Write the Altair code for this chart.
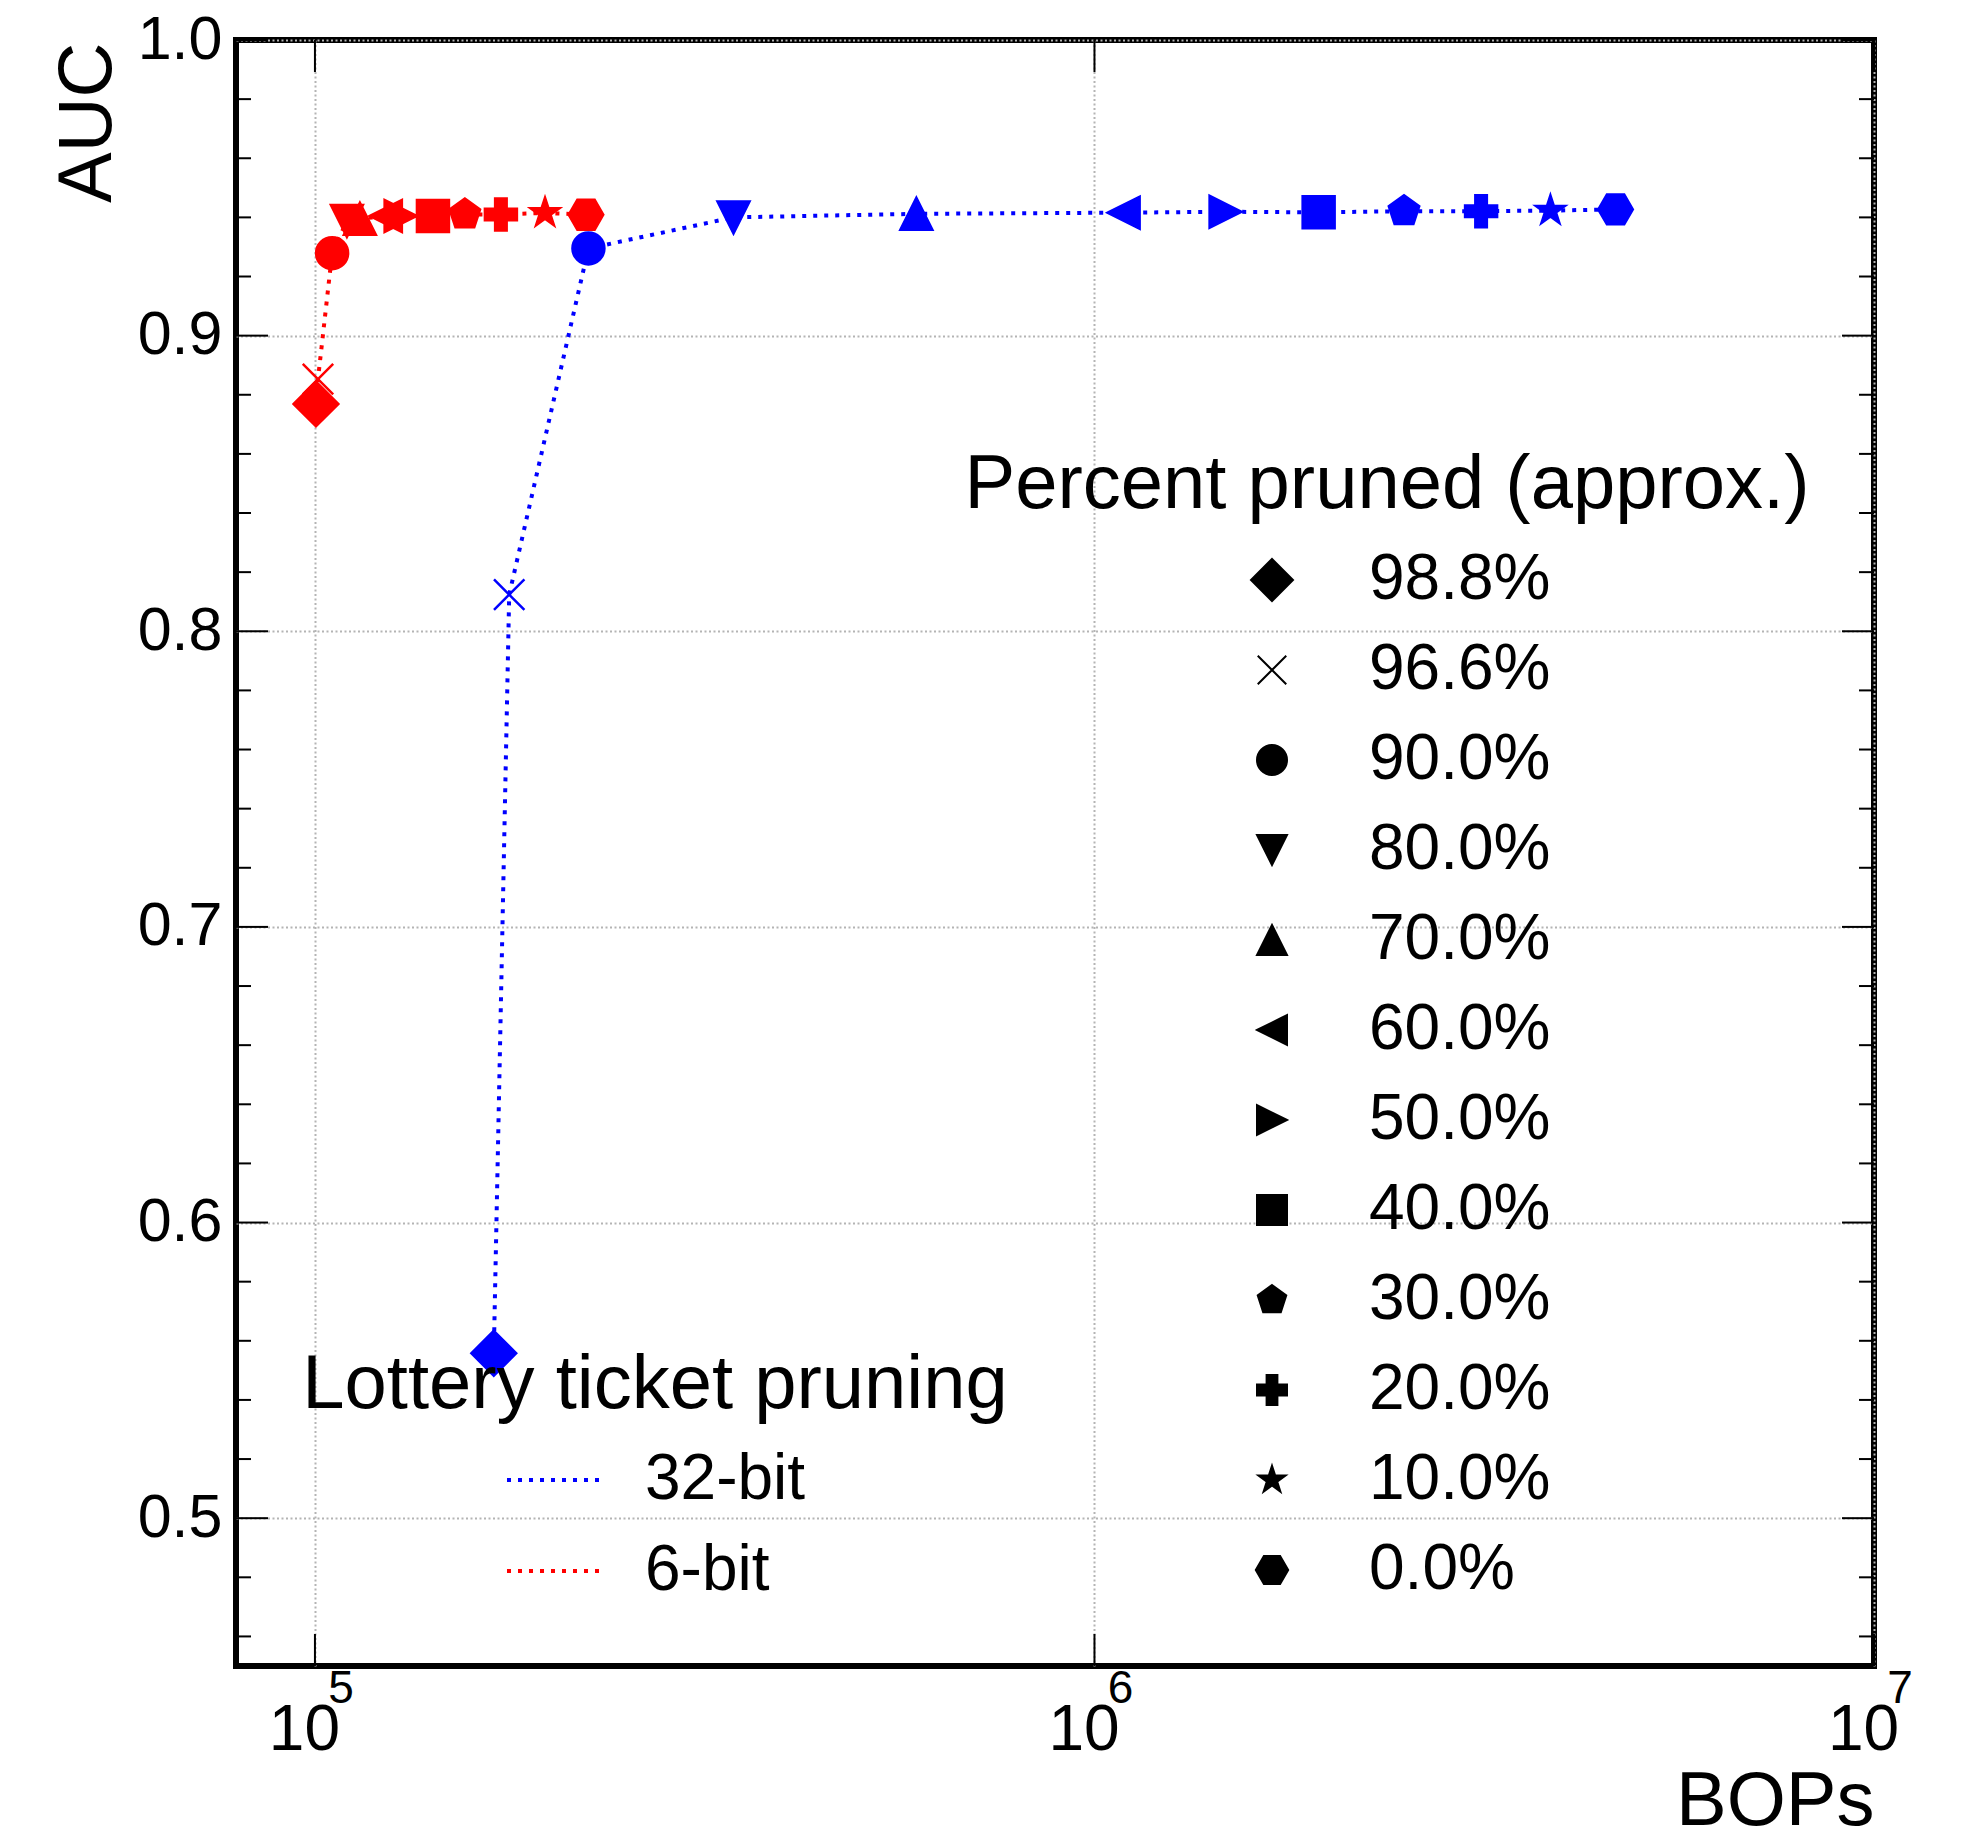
import math
import altair as alt
import pandas as pd

# ---------------- data ----------------
pct_labels = ["98.8%", "96.6%", "90.0%", "80.0%", "70.0%", "60.0%",
              "50.0%", "40.0%", "30.0%", "20.0%", "10.0%", "0.0%"]

bops_32 = [1.696e5, 1.775e5, 2.243e5, 3.443e5, 5.909e5, 1.090e6,
           1.473e6, 1.939e6, 2.495e6, 3.133e6, 3.845e6, 4.661e6]
auc_32 = [0.5558, 0.8124, 0.9295, 0.9400, 0.9412, 0.9416,
          0.9419, 0.9417, 0.9421, 0.9421, 0.9423, 0.9427]

bops_6 = [1.003e5, 1.009e5, 1.052e5, 1.099e5, 1.142e5, 1.233e5,
          1.288e5, 1.417e5, 1.557e5, 1.732e5, 1.973e5, 2.227e5]
auc_6 = [0.8769, 0.8853, 0.9279, 0.9388, 0.9395, 0.9405,
         0.9405, 0.9405, 0.9410, 0.9410, 0.9415, 0.9409]

series_names = ["32-bit", "6-bit"]
series_colors = ["#0000ff", "#ff0000"]

x_major_ticks = [1e5, 1e6, 1e7]
x_exponents = ["5", "6", "7"]
y_major_ticks = [0.5, 0.6, 0.7, 0.8, 0.9, 1.0]
y_minor_ticks = [0.46, 0.48, 0.52, 0.54, 0.56, 0.58, 0.62, 0.64, 0.66, 0.68,
                 0.72, 0.74, 0.76, 0.78, 0.82, 0.84, 0.86, 0.88, 0.92, 0.94,
                 0.96, 0.98]

legend_title_pct = "Percent pruned (approx.)"
legend_title_lt = "Lottery ticket pruning"

# ---------------- marker shapes (unit box paths) ----------------
def poly(pts):
    return "M" + "L".join(f"{x:.4f},{y:.4f}" for x, y in pts) + "Z"

def regular(n, r, start_deg):
    return [(r * math.cos(math.radians(start_deg + 360 * k / n)),
             r * math.sin(math.radians(start_deg + 360 * k / n))) for k in range(n)]

def star(R, r):
    pts = []
    for k in range(10):
        rad = R if k % 2 == 0 else r
        a = math.radians(-90 + 36 * k)
        pts.append((rad * math.cos(a), rad * math.sin(a)))
    return pts

a = 0.36
shape_paths = [
    poly([(0, -1.4), (1.4, 0), (0, 1.4), (-1.4, 0)]),                 # diamond
    "M-0.95,-0.95L0.95,0.95M-0.95,0.95L0.95,-0.95",                    # x
    "M1,0A1,1,0,1,1,-1,0A1,1,0,1,1,1,0Z",                              # circle
    poly([(-1, -1), (1, -1), (0, 1)]),                                 # triangle down
    poly([(0, -1), (1, 1), (-1, 1)]),                                  # triangle up
    poly([(-1, 0), (1, -1), (1, 1)]),                                  # triangle left
    poly([(1, 0), (-1, -1), (-1, 1)]),                                 # triangle right
    poly([(-1, -1), (1, -1), (1, 1), (-1, 1)]),                        # square
    poly(regular(5, 1.0, -90)),                                        # pentagon
    poly([(-a, -1), (a, -1), (a, -a), (1, -a), (1, a), (a, a), (a, 1),
          (-a, 1), (-a, a), (-1, a), (-1, -a), (-a, -a)]),             # plus
    poly(star(0.95, 0.363)),                                           # star
    poly(regular(6, 1.08, 0)),                                         # hexagon
]

# ---------------- tables ----------------
rows = []
for name, xs, ys in [("32-bit", bops_32, auc_32), ("6-bit", bops_6, auc_6)]:
    for i, (xv, yv) in enumerate(zip(xs, ys)):
        rows.append({"bit": name, "pct": pct_labels[i], "bops": xv, "auc": yv, "i": i})
df = pd.DataFrame(rows)

W, H = 1638, 1626
FONT = "Liberation Sans"

xscale = alt.Scale(type="log", domain=[79200, 1e7], nice=False)
yscale = alt.Scale(domain=[0.45, 1.0], nice=False, zero=False)
cscale = alt.Scale(domain=series_names, range=series_colors)

x_axis = alt.Axis(values=x_major_ticks, labelExpr="'10'", title="BOPs", orient="bottom",
                  ticks=False, tickSize=0, domain=False,
                  labelFontSize=64, labelFont=FONT, labelColor="black",
                  labelBaseline="alphabetic", labelPadding=83, labelOffset=-11,
                  grid=True, gridColor="#b4b4b4", gridDash=[2, 2.5], gridWidth=2,
                  titleFontSize=76, titleFont=FONT, titleFontWeight="normal",
                  titleColor="black", titleX=W, titleY=158, titleAlign="right",
                  titleBaseline="alphabetic", labelFlush=False, labelOverlap=False)
y_axis = alt.Axis(values=y_major_ticks, format=".1f", title="AUC", orient="left",
                  ticks=False, tickSize=0, domain=False,
                  labelFontSize=61, labelFont=FONT, labelColor="black",
                  labelPadding=14, labelFlush=False, labelOverlap=False,
                  grid=True, gridColor="#b4b4b4", gridDash=[2, 2.5], gridWidth=2,
                  titleFontSize=76, titleFont=FONT, titleFontWeight="normal",
                  titleColor="black", titleX=-126, titleY=2, titleAngle=270,
                  titleAlign="right", titleBaseline="alphabetic")

lines = alt.Chart(df).mark_line(strokeDash=[4, 7], strokeWidth=4, strokeCap="butt").encode(
    x=alt.X("bops:Q", scale=xscale, axis=x_axis),
    y=alt.Y("auc:Q", scale=yscale, axis=y_axis),
    color=alt.Color("bit:N", scale=cscale, legend=alt.Legend(
        title=None, orient="none", legendX=269, legendY=1390,
        symbolType="stroke", symbolSize=9216, symbolStrokeWidth=4,
        symbolDash=[4, 7], labelFontSize=64, labelFont=FONT, labelColor="black",
        labelOffset=40, rowPadding=9, labelLimit=0)),
    order="i:Q",
)

points = alt.Chart(df).mark_point(filled=True, opacity=1, strokeWidth=2.5, size=1024).encode(
    x=alt.X("bops:Q", scale=xscale, axis=None),
    y=alt.Y("auc:Q", scale=yscale, axis=None),
    color=alt.Color("bit:N", scale=cscale, legend=None),
    stroke=alt.Stroke("bit:N", scale=cscale, legend=None),
    shape=alt.Shape("pct:N", scale=alt.Scale(domain=pct_labels, range=shape_paths),
                    legend=alt.Legend(
                        title=None, orient="none", legendX=1004, legendY=508,
                        symbolSize=900, symbolFillColor="black",
                        symbolStrokeColor="black", symbolStrokeWidth=2,
                        symbolOpacity=1, labelFontSize=64, labelFont=FONT,
                        labelColor="black", labelOffset=65, rowPadding=26,
                        labelLimit=0, symbolLimit=0)),
)

# inward ticks
ymaj = pd.DataFrame({"v": y_major_ticks})
ymin = pd.DataFrame({"v": y_minor_ticks})
xmaj = pd.DataFrame({"v": x_major_ticks})

def yticks(data, length, side):
    x0 = 0 if side == "left" else W - length
    return alt.Chart(data).mark_rule(color="black", strokeWidth=2).encode(
        y=alt.Y("v:Q", scale=yscale, axis=None),
        x=alt.value(x0), x2=alt.value(x0 + length))

def xticks(data, length, side):
    y0 = H - length if side == "bottom" else 0
    return alt.Chart(data).mark_rule(color="black", strokeWidth=2).encode(
        x=alt.X("v:Q", scale=xscale, axis=None),
        y=alt.value(y0), y2=alt.value(y0 + length))

tick_layers = [yticks(ymaj, 32, "left"), yticks(ymaj, 32, "right"),
               yticks(ymin, 15, "left"), yticks(ymin, 15, "right"),
               xticks(xmaj, 32, "bottom"), xticks(xmaj, 32, "top")]

exps = alt.Chart(pd.DataFrame({"v": x_major_ticks, "e": x_exponents})).mark_text(
    fontSize=46, font=FONT, color="black", dx=26, align="center", baseline="middle"
).encode(x=alt.X("v:Q", scale=xscale, axis=None), y=alt.value(H + 23), text="e:N")

t_pct = alt.Chart(pd.DataFrame({"t": [legend_title_pct]})).mark_text(
    fontSize=76, font=FONT, color="black", align="center", baseline="alphabetic"
).encode(text="t:N", x=alt.value(1151), y=alt.value(468))

t_lt = alt.Chart(pd.DataFrame({"t": [legend_title_lt]})).mark_text(
    fontSize=76, font=FONT, color="black", align="center", baseline="alphabetic"
).encode(text="t:N", x=alt.value(419), y=alt.value(1368))

chart = alt.layer(lines, *tick_layers, points, exps, t_pct, t_lt).resolve_axis(
    x="independent", y="independent"
).properties(
    width=W, height=H,
    autosize=alt.AutoSizeParams(type="none"),
    padding={"left": 228, "top": 32, "right": 80, "bottom": 166},
).configure(font=FONT).configure_view(stroke="black", strokeWidth=6)

chart.save("out.html", embed_options={"renderer": "svg", "actions": False})
